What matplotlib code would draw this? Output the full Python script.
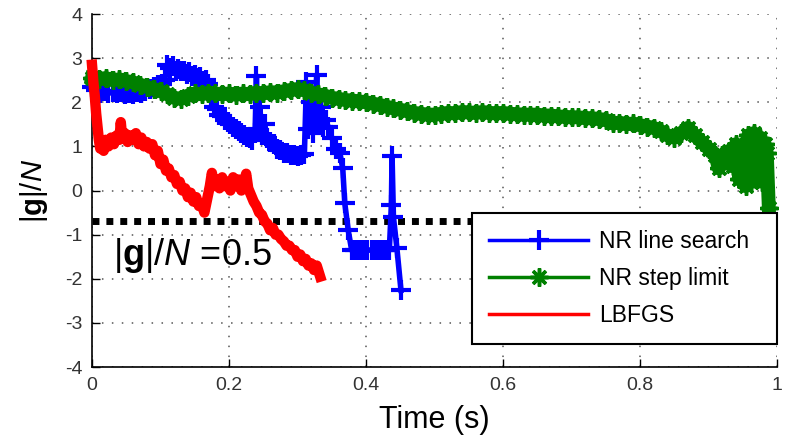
import matplotlib
matplotlib.use("Agg")
import matplotlib.pyplot as plt

plt.rcParams['font.family'] = ['Liberation Sans', 'DejaVu Sans']
plt.rcParams['mathtext.fontset'] = 'custom'
plt.rcParams['mathtext.rm'] = 'Liberation Sans'
plt.rcParams['mathtext.it'] = 'Liberation Sans:italic'
plt.rcParams['mathtext.bf'] = 'Liberation Sans:bold'
plt.rcParams['axes.unicode_minus'] = False

# ---- data ----
blue_x = [0.000, 0.006, 0.012, 0.018, 0.024, 0.030, 0.036, 0.042, 0.048, 0.054,
          0.060, 0.066, 0.072, 0.078, 0.084, 0.090, 0.096, 0.102, 0.106, 0.110,
          0.114, 0.118, 0.122, 0.126, 0.130, 0.134, 0.138, 0.142, 0.146, 0.150,
          0.154, 0.158, 0.162, 0.166, 0.170, 0.174, 0.178, 0.182, 0.186, 0.190,
          0.194, 0.198, 0.202, 0.206, 0.210, 0.214, 0.218, 0.222, 0.226, 0.230,
          0.234, 0.238, 0.240, 0.242, 0.245, 0.248, 0.252, 0.256, 0.260, 0.265,
          0.270, 0.275, 0.280, 0.285, 0.290, 0.295, 0.300, 0.305, 0.310, 0.313,
          0.316, 0.319, 0.322, 0.325, 0.328, 0.331, 0.334, 0.337, 0.341, 0.345,
          0.350, 0.356, 0.362, 0.366, 0.369, 0.374, 0.379, 0.384, 0.390, 0.396,
          0.402, 0.408, 0.414, 0.420, 0.426, 0.431, 0.434, 0.437, 0.438, 0.440,
          0.445, 0.451]
blue_y = [2.35, 2.28, 2.22, 2.25, 2.20, 2.24, 2.20, 2.23, 2.19, 2.22,
          2.18, 2.24, 2.20, 2.26, 2.30, 2.35, 2.40, 2.42, 2.50, 2.85,
          2.78, 2.82, 2.72, 2.76, 2.70, 2.72, 2.65, 2.68, 2.60, 2.62,
          2.55, 2.57, 2.48, 2.50, 2.42, 2.10, 1.90, 1.85, 1.72, 1.68,
          1.60, 1.55, 1.50, 1.45, 1.40, 1.35, 1.30, 1.26, 1.22, 1.20,
          1.15, 1.30, 2.60, 1.40, 1.90, 1.25, 1.50, 1.20, 1.10, 1.05,
          0.95, 0.92, 0.85, 0.84, 0.80, 0.80, 0.78, 0.80, 0.82, 2.45,
          1.40, 2.00, 1.30, 1.80, 2.62, 1.50, 1.90, 1.45, 1.60, 1.43,
          1.20, 0.95, 0.84, 0.50, -0.29, -0.90, -1.35, -1.35, -1.35, -1.35,
          -1.35, -1.35, -1.35, -1.35, -1.35, -1.35, -1.35, -0.33, 0.78, -0.60,
          -1.30, -2.26]

green_x = [0.00, 0.01, 0.02, 0.03, 0.04, 0.05, 0.06, 0.07, 0.08, 0.09,
           0.10, 0.11, 0.12, 0.13, 0.14, 0.15, 0.16, 0.17, 0.18, 0.19,
           0.20, 0.21, 0.22, 0.23, 0.24, 0.25, 0.26, 0.27, 0.28, 0.29,
           0.30, 0.31, 0.32, 0.33, 0.34, 0.35, 0.36, 0.37, 0.38, 0.39,
           0.40, 0.41, 0.42, 0.43, 0.44, 0.45, 0.46, 0.47, 0.48, 0.49,
           0.50, 0.51, 0.52, 0.53, 0.54, 0.55, 0.56, 0.57, 0.58, 0.59,
           0.60, 0.61, 0.62, 0.63, 0.64, 0.65, 0.66, 0.67, 0.68, 0.69,
           0.70, 0.71, 0.72, 0.73, 0.74, 0.75, 0.76, 0.77, 0.78, 0.79,
           0.80, 0.81, 0.82, 0.83, 0.84, 0.85, 0.86, 0.87, 0.88, 0.89,
           0.90, 0.91, 0.915, 0.92, 0.93, 0.935, 0.94, 0.945, 0.95, 0.954,
           0.958, 0.962, 0.966, 0.970, 0.975, 0.978, 0.982, 0.985, 0.988]
green_y = [2.55, 2.52, 2.55, 2.50, 2.52, 2.48, 2.45, 2.40, 2.35, 2.30,
           2.25, 2.18, 2.10, 2.08, 2.15, 2.20, 2.18, 2.22, 2.20, 2.18,
           2.20, 2.17, 2.20, 2.18, 2.22, 2.20, 2.23, 2.22, 2.25, 2.28,
           2.30, 2.27, 2.22, 2.18, 2.15, 2.10, 2.08, 2.05, 2.04, 2.02,
           2.00, 1.97, 1.94, 1.90, 1.86, 1.83, 1.80, 1.76, 1.74, 1.72,
           1.72, 1.74, 1.76, 1.75, 1.78, 1.77, 1.76, 1.78, 1.76, 1.75,
           1.76, 1.74, 1.73, 1.72, 1.72, 1.72, 1.70, 1.70, 1.68, 1.67,
           1.66, 1.66, 1.64, 1.64, 1.62, 1.60, 1.52, 1.54, 1.50, 1.52,
           1.48, 1.45, 1.42, 1.35, 1.25, 1.20, 1.30, 1.42, 1.25, 1.10,
           0.95, 0.80, 0.50, 0.80, 0.90, 0.55, 1.05, 0.25, 0.90, 0.10,
           1.25, 0.20, 1.30, 0.25, 1.20, 0.20, 1.05, 0.85, -0.40]

red_x = [0.000, 0.002, 0.004, 0.006, 0.008, 0.010, 0.012, 0.014, 0.017, 0.020,
         0.024, 0.028, 0.032, 0.036, 0.040, 0.042, 0.044, 0.048, 0.052, 0.056,
         0.060, 0.064, 0.068, 0.072, 0.076, 0.080, 0.084, 0.088, 0.092, 0.096,
         0.100, 0.104, 0.108, 0.112, 0.116, 0.120, 0.124, 0.128, 0.132, 0.136,
         0.140, 0.144, 0.148, 0.152, 0.156, 0.160, 0.164, 0.168, 0.172, 0.175,
         0.178, 0.182, 0.186, 0.190, 0.194, 0.198, 0.202, 0.206, 0.210, 0.214,
         0.218, 0.222, 0.225, 0.228, 0.232, 0.236, 0.240, 0.244, 0.248, 0.252,
         0.256, 0.260, 0.264, 0.268, 0.272, 0.276, 0.280, 0.284, 0.288, 0.292,
         0.296, 0.300, 0.304, 0.308, 0.312, 0.316, 0.320, 0.324, 0.328, 0.333]
red_y = [2.85, 2.45, 2.15, 1.75, 1.45, 1.15, 0.95, 1.05, 0.90, 1.15,
         1.00, 1.20, 1.05, 1.25, 1.15, 1.55, 1.20, 1.30, 1.10, 1.25,
         1.15, 1.30, 1.05, 1.20, 1.00, 1.10, 0.95, 1.05, 0.80, 0.90,
         0.60, 0.70, 0.45, 0.50, 0.30, 0.35, 0.15, 0.20, 0.00, 0.05,
         -0.15, -0.05, -0.25, -0.15, -0.35, -0.30, -0.50, -0.20, 0.10, 0.40,
         0.10, 0.25, 0.05, 0.30, 0.10, 0.20, 0.00, 0.30, 0.10, 0.25,
         0.00, 0.20, 0.38, 0.05, -0.10, -0.25, -0.35, -0.50, -0.55, -0.70,
         -0.75, -0.90, -0.85, -1.00, -1.00, -1.10, -1.15, -1.25, -1.25, -1.35,
         -1.35, -1.50, -1.45, -1.60, -1.55, -1.70, -1.65, -1.80, -1.70, -1.95]

threshold_x = [0.0, 1.0]
threshold_y = [-0.693, -0.693]

x_ticks = [0, 0.2, 0.4, 0.6, 0.8, 1]
x_ticklabels = ['0', '0.2', '0.4', '0.6', '0.8', '1']
y_ticks = [-4, -3, -2, -1, 0, 1, 2, 3, 4]
labels = ['NR line search', 'NR step limit', 'LBFGS']

# ---- figure ----
fig = plt.figure(figsize=(7.96, 4.38), dpi=100)
ax = fig.add_axes([0.1156, 0.162, 0.8606, 0.806])

ax.plot(threshold_x, threshold_y, color='black', lw=5, linestyle=(0, (1, 1)),
        dash_capstyle='butt', zorder=1)
ax.plot(blue_x, blue_y, color='#0000FF', lw=4, marker='+', ms=14, mew=3.0,
        label=labels[0], clip_on=False, zorder=2)
ax.plot(green_x, green_y, color='#008000', lw=10, marker=(8, 2, 0), ms=13, mew=2.5,
        label=labels[1], clip_on=False, zorder=3)
ax.plot(red_x, red_y, color='#FF0000', lw=7.5, label=labels[2], clip_on=False, zorder=4)

ax.text(0.03, -1.69, r'$|\mathbf{g}|/N$ =0.5', fontsize=26, color='black')

ax.set_xlim(0, 1)
ax.set_ylim(-4, 4)
ax.set_xticks(x_ticks)
ax.set_xticklabels(x_ticklabels)
ax.set_yticks(y_ticks)
ax.tick_params(direction='in', length=6, width=1, labelsize=14, labelcolor='#333333',
               pad=7)
ax.grid(True, color='#555555', linestyle=(0, (1, 5.5)), lw=1.1)
ax.spines['top'].set_visible(False)
ax.spines['right'].set_visible(False)
for s in ('left', 'bottom'):
    ax.spines[s].set_linewidth(1.2)

ax.set_xlabel('Time (s)', fontsize=22, labelpad=8)
ax.set_ylabel(r'$|\mathbf{g}|/N$', fontsize=21, labelpad=11)

leg = ax.legend(loc='upper left', bbox_to_anchor=(0.555, 0.071, 0.445, 0.365),
                mode='expand', borderaxespad=0,
                fontsize=16.5, numpoints=1, handlelength=4.3, handletextpad=0.5,
                labelspacing=0.6, borderpad=0.75,
                fancybox=False, framealpha=1, edgecolor='black')
leg.get_frame().set_linewidth(1.5)
leg.set_zorder(10)
for h in leg.get_lines():
    h.set_linewidth(2.5)

fig.savefig('out.png', dpi=100)
